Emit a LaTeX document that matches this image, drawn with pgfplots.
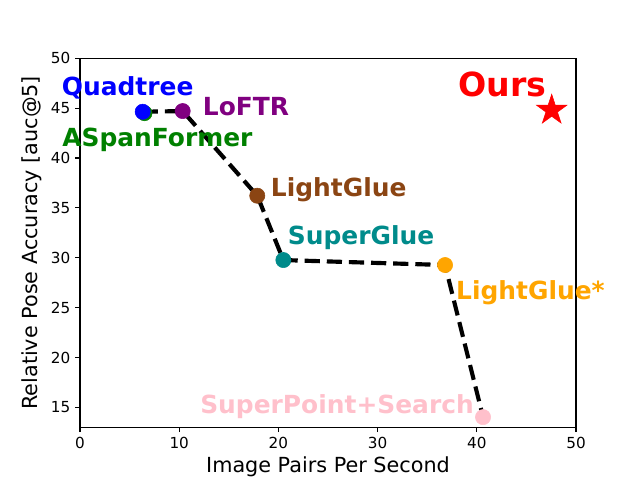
\documentclass[border=0pt]{standalone}
\usepackage{fontspec}
\setmainfont{DejaVu Sans}
\usepackage{pgfplots}
\pgfplotsset{compat=1.18}

% filled five-point star, like matplotlib's '*'
\pgfdeclareplotmark{fstar}{%
  \pgfpathmoveto{\pgfpointpolar{90}{\pgfplotmarksize}}%
  \pgfpathlineto{\pgfpointpolar{126}{0.382*\pgfplotmarksize}}%
  \pgfpathlineto{\pgfpointpolar{162}{\pgfplotmarksize}}%
  \pgfpathlineto{\pgfpointpolar{198}{0.382*\pgfplotmarksize}}%
  \pgfpathlineto{\pgfpointpolar{234}{\pgfplotmarksize}}%
  \pgfpathlineto{\pgfpointpolar{270}{0.382*\pgfplotmarksize}}%
  \pgfpathlineto{\pgfpointpolar{306}{\pgfplotmarksize}}%
  \pgfpathlineto{\pgfpointpolar{342}{0.382*\pgfplotmarksize}}%
  \pgfpathlineto{\pgfpointpolar{18}{\pgfplotmarksize}}%
  \pgfpathlineto{\pgfpointpolar{54}{0.382*\pgfplotmarksize}}%
  \pgfpathclose
  \pgfusepathqfillstroke
}

\definecolor{mgreen}{RGB}{0,128,0}
\definecolor{mpurple}{RGB}{128,0,128}
\definecolor{mbrown}{RGB}{139,69,19}
\definecolor{mteal}{RGB}{0,139,139}
\definecolor{morange}{RGB}{255,165,0}
\definecolor{mpink}{RGB}{255,192,203}

\begin{document}
\begin{tikzpicture}
\useasboundingbox (-0.80in,-0.527in) rectangle (5.60in,4.273in);
\begin{axis}[
  scale only axis,
  width=4.96in, height=3.69in,
  xmin=0, xmax=50, ymin=13, ymax=50,
  xtick={0,10,...,50}, ytick={15,20,...,50},
  tick align=outside, xtick pos=left, ytick pos=left,
  major tick length=3.5pt,
  tick style={black, line width=0.8pt},
  axis line style={line width=0.8pt},
  /pgf/number format/assume math mode=true,
  ticklabel style={font=\fontsize{11}{13}\selectfont},
  xlabel={Image Pairs Per Second},
  ylabel={Relative Pose Accuracy [auc@5]},
  label style={font=\fontsize{15}{18}\selectfont},
  xlabel style={at={(axis description cs:0.5,-0.108)}, anchor=center},
  ylabel style={at={(axis description cs:-0.097,0.5)}, anchor=center},
  clip=false,
]
% frontier
\addplot[black, line width=3pt, dash pattern=on 11pt off 5pt] coordinates {
  (6.32,44.64) (10.35,44.71) (17.87,36.22) (20.5,29.77) (36.8,29.27) (40.63,14.02)
};
% methods
\addplot[only marks, mark=*, mark size=5.5pt, mgreen] coordinates {(6.5,44.5)};
\addplot[only marks, mark=*, mark size=5.5pt, blue] coordinates {(6.32,44.64)};
\addplot[only marks, mark=*, mark size=5.5pt, mpurple] coordinates {(10.35,44.71)};
\addplot[only marks, mark=*, mark size=5.5pt, mbrown] coordinates {(17.87,36.22)};
\addplot[only marks, mark=*, mark size=5.5pt, mteal] coordinates {(20.5,29.77)};
\addplot[only marks, mark=*, mark size=5.5pt, morange] coordinates {(36.8,29.27)};
\addplot[only marks, mark=*, mark size=5.5pt, mpink] coordinates {(40.63,14.02)};
\addplot[only marks, mark=fstar, mark size=11.5pt, red] coordinates {(47.55,44.8)};

\begin{scope}[every node/.style={anchor=base west, inner sep=0pt, font=\fontsize{18}{21}\selectfont\bfseries}]
\node[blue] at (axis cs:-1.85,46.32) {Quadtree};
\node[mgreen] at (axis cs:-1.81,41.2) {ASpanFormer};
\node[mpurple] at (axis cs:12.37,44.31) {LoFTR};
\node[mbrown] at (axis cs:19.22,36.12) {LightGlue};
\node[mteal] at (axis cs:20.93,31.37) {SuperGlue};
\node[morange] at (axis cs:37.9,25.83) {LightGlue*};
\node[mpink] at (axis cs:12.1,14.43) {SuperPoint+Search};
\node[red, font=\fontsize{24}{28}\selectfont\bfseries] at (axis cs:38.1,46.15) {Ours};
\end{scope}
\end{axis}
\end{tikzpicture}
\end{document}
